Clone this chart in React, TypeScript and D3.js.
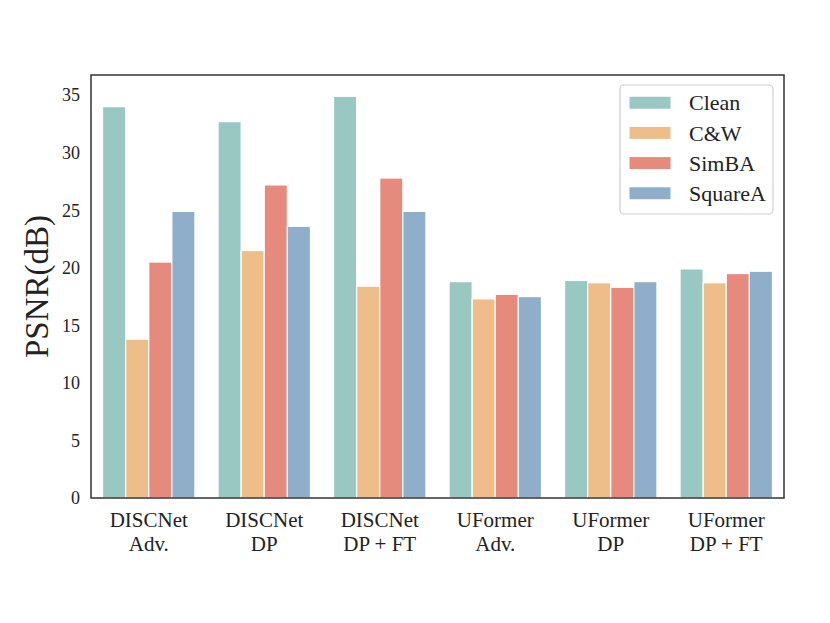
import { useEffect, useRef } from 'react'
import * as d3 from 'd3'

const GROUPS = [
  ['DISCNet', 'Adv.'],
  ['DISCNet', 'DP'],
  ['DISCNet', 'DP + FT'],
  ['UFormer', 'Adv.'],
  ['UFormer', 'DP'],
  ['UFormer', 'DP + FT'],
]
const SERIES = ['Clean', 'C&W', 'SimBA', 'SquareA']
const COLORS = ['#99c7c2', '#eebe8a', '#e78a7e', '#8eaeca']
const CLEAN = [34.0, 32.7, 34.9, 18.8, 18.9, 19.9]
const CW = [13.8, 21.5, 18.4, 17.3, 18.7, 18.7]
const SIMBA = [20.5, 27.2, 27.8, 17.7, 18.3, 19.5]
const SQUAREA = [24.9, 23.6, 24.9, 17.5, 18.8, 19.7]
const Y_TICKS = [0, 5, 10, 15, 20, 25, 30, 35]

const FONT = '"Liberation Serif", "Times New Roman", serif'

export default function App() {
  const svgRef = useRef<SVGSVGElement>(null)

  useEffect(() => {
    if (!svgRef.current) return
    const svg = d3.select(svgRef.current)
    svg.selectAll('*').remove()

    const left = 91
    const right = 784
    const top = 75
    const bottom = 498

    const values = [CLEAN, CW, SIMBA, SQUAREA]
    const rows = GROUPS.map((g, gi) => ({
      key: gi,
      label: g,
      vals: SERIES.map((s, si) => ({ s, si, v: values[si][gi] })),
    }))

    const x0 = d3.scaleBand<number>()
      .domain(rows.map((r) => r.key))
      .range([left, right])
      .paddingInner(0.2)
      .paddingOuter(0.1)

    const x1 = d3.scaleBand<string>()
      .domain(SERIES)
      .range([0, x0.bandwidth()])

    const y = d3.scaleLinear().domain([0, 36.75]).range([bottom, top])

    // bars
    const grp = svg.append('g')
      .selectAll('g')
      .data(rows)
      .join('g')
      .attr('transform', (d) => `translate(${x0(d.key)},0)`)

    grp.selectAll('rect')
      .data((d) => d.vals)
      .join('rect')
      .attr('x', (d) => x1(d.s)!)
      .attr('width', x1.bandwidth())
      .attr('y', (d) => y(d.v))
      .attr('height', (d) => y(0) - y(d.v))
      .attr('fill', (d) => COLORS[d.si])
      .attr('stroke', '#fff')
      .attr('stroke-width', 1.2)

    // frame
    svg.append('rect')
      .attr('x', left).attr('y', top)
      .attr('width', right - left).attr('height', bottom - top)
      .attr('fill', 'none').attr('stroke', '#333').attr('stroke-width', 1.5)

    // y ticks
    svg.append('g')
      .selectAll('text')
      .data(Y_TICKS)
      .join('text')
      .attr('x', 80)
      .attr('y', (d) => y(d))
      .attr('dy', '0.35em')
      .attr('text-anchor', 'end')
      .attr('font-family', FONT)
      .attr('font-size', 18)
      .attr('fill', '#222')
      .text((d) => d)

    // x ticks (two lines)
    const xt = svg.append('g')
      .selectAll('text')
      .data(rows)
      .join('text')
      .attr('text-anchor', 'middle')
      .attr('font-family', FONT)
      .attr('font-size', 21)
      .attr('fill', '#222')
    xt.append('tspan')
      .attr('x', (d) => x0(d.key)! + x0.bandwidth() / 2)
      .attr('y', 527)
      .text((d) => d.label[0])
    xt.append('tspan')
      .attr('x', (d) => x0(d.key)! + x0.bandwidth() / 2)
      .attr('y', 551)
      .text((d) => d.label[1])

    // y label
    svg.append('text')
      .attr('transform', `translate(48,${(top + bottom) / 2}) rotate(-90)`)
      .attr('text-anchor', 'middle')
      .attr('font-family', FONT)
      .attr('font-size', 33)
      .attr('fill', '#222')
      .text('PSNR(dB)')

    // legend
    const lg = svg.append('g')
    lg.append('rect')
      .attr('x', 620).attr('y', 85)
      .attr('width', 153).attr('height', 129)
      .attr('rx', 4)
      .attr('fill', '#fff').attr('fill-opacity', 0.8)
      .attr('stroke', '#d0d0d0').attr('stroke-width', 1.2)
    const items = lg.selectAll('g.item')
      .data(SERIES)
      .join('g')
      .attr('class', 'item')
      .attr('transform', (_, i) => `translate(0,${102.7 + i * 30.2})`)
    items.append('rect')
      .attr('x', 629).attr('y', -6.5)
      .attr('width', 42).attr('height', 13)
      .attr('fill', (_, i) => COLORS[i])
      .attr('stroke', '#fff').attr('stroke-width', 1)
    items.append('text')
      .attr('x', 689).attr('y', 0)
      .attr('dy', '0.35em')
      .attr('font-family', FONT)
      .attr('font-size', 22)
      .attr('fill', '#222')
      .text((d) => d)
  }, [])

  return <svg ref={svgRef} width={830} height={623} style={{ display: 'block', margin: '-8px' }} />
}
